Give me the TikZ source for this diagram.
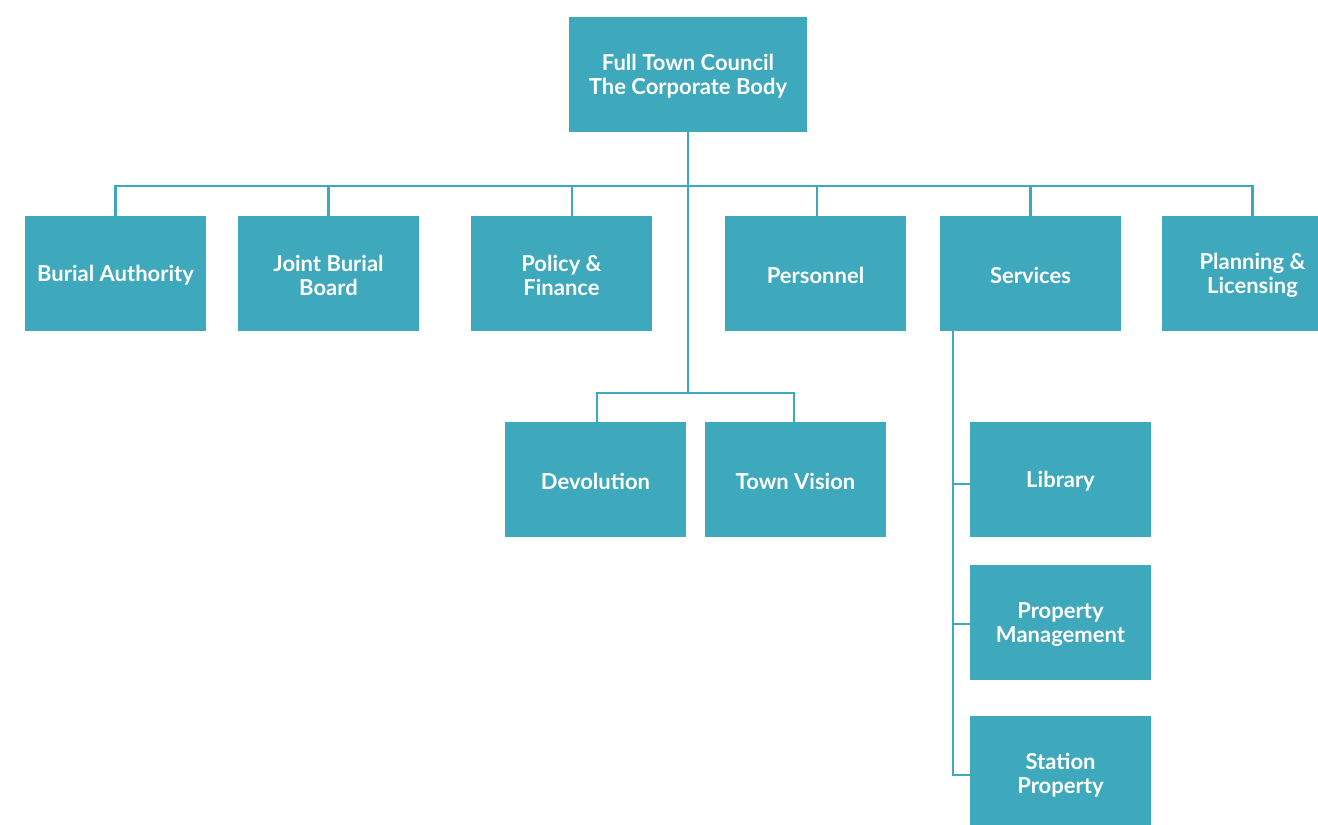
\documentclass[tikz,border=0pt]{standalone}
\usepackage{fontspec}
\setmainfont{Lato}
\definecolor{tealbox}{HTML}{3EA8BD}
\begin{document}
\begin{tikzpicture}[x=1pt,y=-1pt,
  box/.style={fill=tealbox, minimum width=181pt, minimum height=115pt, inner sep=0pt},
  lbl/.style={text=white, font=\bfseries\fontsize{22}{24}\selectfont, align=center, inner sep=0pt},
  conn/.style={draw=tealbox, line width=2.6pt}]
\useasboundingbox (0,0) rectangle (1318,825);
\clip (0,0) rectangle (1318,825);
\fill[white] (0,0) rectangle (1318,825);
% nodes
\node[box, minimum width=238pt] (top) at (688,74.5) {};
\node[box] (ba) at (115.5,273.5) {};
\node[box] (jb) at (328.5,273.5) {};
\node[box] (pf) at (561.5,273.5) {};
\node[box] (pe) at (815.5,273.5) {};
\node[box] (se) at (1030.5,273.5) {};
\node[box] (pl) at (1252.5,273.5) {};
\node[box] (dv) at (595.5,479.5) {};
\node[box] (tv) at (795.5,479.5) {};
\node[box] (li) at (1060.5,479.5) {};
\node[box] (pm) at (1060.5,622.5) {};
\node[box] (sp) at (1060.5,773.5) {};
% labels
\node[lbl] (topl) at ([yshift=-2pt]top.center) {Full Town Council\\The Corporate Body};
\node[lbl] (bal) at ([yshift=-2pt]ba.center) {Burial Authority};
\node[lbl] (jbl) at ([yshift=-2pt]jb.center) {Joint Burial\\Board};
\node[lbl] (pfl) at ([yshift=-2pt]pf.center) {Policy \&\\Finance};
\node[lbl] (pel) at ([yshift=-2pt]pe.center) {Personnel};
\node[lbl] (sel) at ([yshift=-2pt]se.center) {Services};
\node[lbl] (pll) at ([yshift=-2pt]pl.center) {Planning \&\\Licensing};
\node[lbl] (dvl) at ([yshift=-2pt]dv.center) {Devolution};
\node[lbl] (tvl) at ([yshift=-2pt]tv.center) {Town Vision};
\node[lbl] (lil) at ([yshift=-2pt]li.center) {Library};
\node[lbl] (pml) at ([yshift=-2pt]pm.center) {Property\\Management};
\node[lbl] (spl) at ([yshift=-2pt]sp.center) {Station\\Property};
% connectors
\coordinate (bus) at (688,186);
\coordinate (sub) at (688,393);
\draw[conn] (top.south) -- (bus);
\draw[conn] (ba.north) |- (bus) -| (pl.north);
\draw[conn] (jb.north) -- (jb.north |- bus);
\draw[conn] ([xshift=10.5pt]pf.north) -- ([xshift=10.5pt]pf.north |- bus);
\draw[conn] ([xshift=1.5pt]pe.north) -- ([xshift=1.5pt]pe.north |- bus);
\draw[conn] (se.north) -- (se.north |- bus);
\draw[conn] (bus) -- (sub);
\draw[conn] ([xshift=1.5pt]dv.north) |- (sub) -| ([xshift=-1.5pt]tv.north);
\coordinate (sv) at ([xshift=-77.5pt]se.south);
\draw[conn] (sv) |- ([yshift=-1.5pt]sp.west);
\draw[conn] ([yshift=-4.5pt]li.west) -- ([yshift=-4.5pt]li.west -| sv);
\draw[conn] ([yshift=-1.5pt]pm.west) -- ([yshift=-1.5pt]pm.west -| sv);
\end{tikzpicture}
\end{document}
